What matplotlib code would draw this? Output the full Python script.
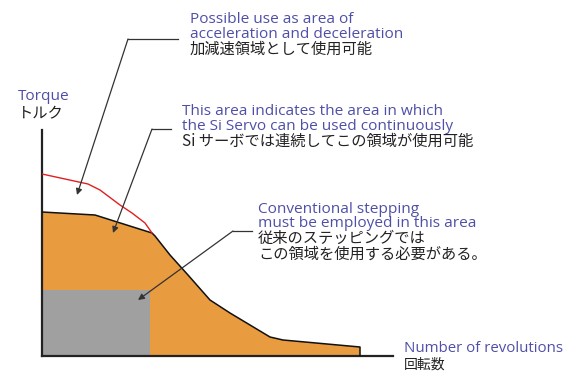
import matplotlib
matplotlib.use("Agg")
import matplotlib.pyplot as plt
from matplotlib.lines import Line2D
from matplotlib.patches import FancyArrowPatch

W, H = 567, 373

# Data (chart units: revolutions, torque)
cont_rev = [0, 53, 110, 113, 128, 146, 168, 188, 228, 241, 318, 318]
cont_torque = [144, 141, 123, 120, 101, 81, 56, 43, 19, 16, 9, 0]
acc_rev = [0, 46, 52, 58, 66, 78, 90, 103, 110]
acc_torque = [182, 172, 169, 166, 160, 151, 143, 133, 123]
step_rev = [0, 108]
step_torque = [0, 66]

title_en = ["Possible use as area of", "acceleration and deceleration"]
title_jp = ["加減速領域として使用可能"]
cont_en = ["This area indicates the area in which", "the Si Servo can be used continuously"]
cont_jp = ["Si サーボでは連続してこの領域が使用可能"]
step_en = ["Conventional stepping", "must be employed in this area"]
step_jp = ["従来のステッピングでは", "この領域を使用する必要がある。"]
ylab = ["Torque", "トルク"]
xlab = ["Number of revolutions", "回転数"]

BLUE = "#4f4fa8"
ORANGE = "#e99b3f"
GRAY = "#a0a0a0"
EN = ["Open Sans", "DejaVu Sans"]
JP = ["Noto Sans CJK JP", "DejaVu Sans"]

fig = plt.figure(figsize=(W / 100, H / 100), dpi=100)

def P(x, y):
    return (x / W, 1 - y / H)

x0, y0, x1, y1 = 42, 356, 393, 130
ax = fig.add_axes([x0 / W, 1 - y0 / H, (x1 - x0) / W, (y0 - y1) / H])
ax.set_xlim(0, x1 - x0)
ax.set_ylim(0, y0 - y1)
for s in ["top", "right"]:
    ax.spines[s].set_visible(False)
for s in ["left", "bottom"]:
    ax.spines[s].set_linewidth(1.6)
    ax.spines[s].set_color("#222222")
ax.set_xticks([])
ax.set_yticks([])
ax.patch.set_alpha(0)

ax.fill(cont_rev + [0], cont_torque + [0], color=ORANGE, lw=0, zorder=1)
ax.plot(cont_rev, cont_torque, color="#111111", lw=1.1, zorder=3)
ax.fill_between(step_rev, step_torque[0], step_torque[1], color=GRAY, lw=0, zorder=2)
ax.plot(acc_rev, acc_torque, color="#e02020", lw=1.0, zorder=3)

def lines(x, ys, texts, color, fam, size, weight="normal"):
    for yy, t in zip(ys, texts):
        fig.text(*P(x, yy), t, color=color, family=fam, fontsize=size,
                 va="baseline", ha="left", weight=weight)

ENS, JPS = 11.1, 11.0
lines(190, [23, 38], title_en, BLUE, EN, ENS)
lines(190, [54], title_jp, "#222222", JP, JPS)
lines(182, [115, 130], cont_en, BLUE, EN, ENS)
lines(182, [146], cont_jp, "#222222", JP, JPS)
lines(258, [213, 227], step_en, BLUE, EN, ENS)
lines(258, [243, 259], step_jp, "#222222", JP, JPS)
lines(18, [100], ylab[:1], BLUE, EN, ENS)
lines(18, [118], ylab[1:], "#222222", JP, JPS)
lines(404, [352], xlab[:1], BLUE, EN, 10.8)
lines(404, [369], xlab[1:], "#222222", JP, 10.0)

def leader(h0, h1, tip):
    fig.add_artist(Line2D([P(*h0)[0], P(*h1)[0]], [P(*h0)[1], P(*h1)[1]],
                          transform=fig.transFigure, color="#333333", lw=0.9))
    fig.add_artist(FancyArrowPatch(
        P(*h0), P(*tip), transform=fig.transFigure, arrowstyle="-|>",
        mutation_scale=9, color="#333333", lw=0.9, shrinkA=0, shrinkB=0))

leader((128, 39), (178, 39), (77, 195))
leader((152, 129), (171, 129), (113, 233))
leader((233, 231), (252, 231), (138, 300))

fig.savefig("out.png", dpi=100)
